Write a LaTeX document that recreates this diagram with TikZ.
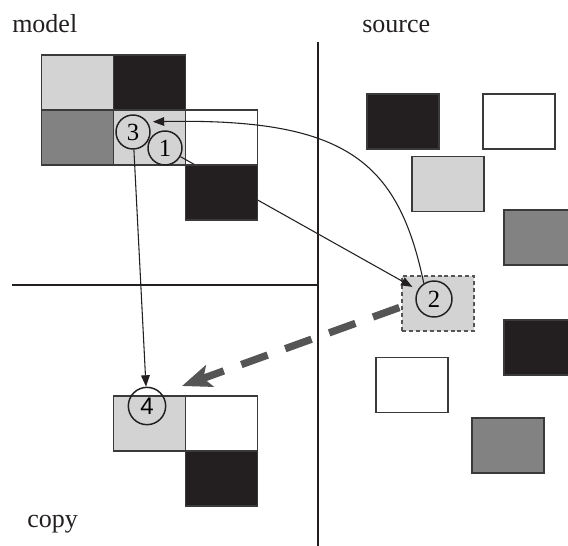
\documentclass[tikz,border=0pt]{standalone}
\usepackage{fontspec}
\setmainfont{Liberation Serif}
\newfontfamily\digsans{Liberation Sans}
\usetikzlibrary{arrows.meta,calc}
\definecolor{lgray}{HTML}{D3D3D3}
\definecolor{dgray}{HTML}{828282}
\definecolor{blk}{HTML}{231F20}
\definecolor{edge}{HTML}{3A3A3A}
\definecolor{dasharrow}{HTML}{555555}
\begin{document}
\begin{tikzpicture}[x=0.75pt,y=-0.75pt,
  cell/.style={draw=edge,line width=1.1pt,minimum width=54pt,minimum height=41.25pt,inner sep=0pt},
  num/.style={circle,draw=blk,line width=1.1pt,fill=lgray,minimum size=25.5pt,inner sep=0pt,font=\fontsize{18.5}{19}\selectfont},
  lbl/.style={anchor=base west,inner sep=0pt,font=\fontsize{19.5}{20}\selectfont,text=blk},
  divider/.style={line width=1.9pt,draw=blk},
  conn/.style={line width=0.8pt,draw=blk,-{Triangle[length=8.5pt,width=6.5pt]}},
  bigdash/.style={line width=5.5pt,draw=dasharrow,dash pattern=on 21pt off 14pt,-{Stealth[length=22pt,width=17pt,inset=5pt]}}]
\clip (0,0) rectangle (568,546);
\fill[white] (0,0) rectangle (568,546);
% labels
\node[lbl] (model) at (12,32) {model};
\node[lbl] (source) at (362,32) {source};
\node[lbl] (copy) at (27,527) {copy};
% dividers
\coordinate (vtop) at (318,42);
\coordinate (vbot) at (318,546);
\coordinate (hleft) at (12,285);
\coordinate (hright) at (318,285);
\draw[divider] (vtop) -- (vbot);
\draw[divider] (hleft) -- (hright);
% source rectangles
\node[cell,fill=blk] (s1) at (403,121.5) {};
\node[cell,fill=white] (s2) at (519,121.5) {};
\node[cell,fill=lgray] (s3) at (448,184) {};
\node[cell,fill=dgray] (s4) at (540,237.5) {};
\node[cell,fill=blk] (s5) at (540,347.5) {};
\node[cell,fill=white] (s6) at (412,385) {};
\node[cell,fill=dgray] (s7) at (508,445.5) {};
\node[cell,fill=lgray,draw=dasharrow,dash pattern=on 3pt off 2.2pt,line width=1pt] (n2) at (438,303.5) {};
% model cells
\node[cell,fill=lgray] (m11) at (77.5,82.5) {};
\node[cell,fill=blk] (m12) at (149.5,82.5) {};
\node[cell,fill=dgray] (m21) at (77.5,137.5) {};
\node[cell,fill=lgray] (m22) at (149.5,137.5) {};
\node[cell,fill=white] (m23) at (221.5,137.5) {};
% copy cells
\node[cell,fill=lgray] (k1) at (149.5,423.5) {};
\node[cell,fill=white] (k2) at (221.5,423.5) {};
\node[cell,fill=blk] (k3) at (221.5,478.5) {};
% circles
\node[num] (c3) at (133,132) {3};
\node[num] (c1) at (165,148) {1};
\node[num,minimum size=27pt] (c2) at (434,299) {2};
\node[num,fill=none,minimum size=28pt,font=\fontsize{18}{19}\digsans] (c4) at (147,406) {4};
% line 1 -> 2 (passes behind the black cell)
\draw[conn,shorten >=4.5pt] (c1) -- (c2);
\node[cell,fill=blk] (m33) at (221.5,192.5) {};
% curve 2 -> 3
\draw[conn,shorten >=4pt] (c2.123) .. controls (398,160) and (345,118) .. (c3.35);
% 3 -> 4
\draw[conn] (c3) -- (c4);
% big dashed arrow
\coordinate (t4) at (182,386);
\draw[bigdash] ($(n2.west)+(-2,4)$) -- (t4);
\end{tikzpicture}
\end{document}
